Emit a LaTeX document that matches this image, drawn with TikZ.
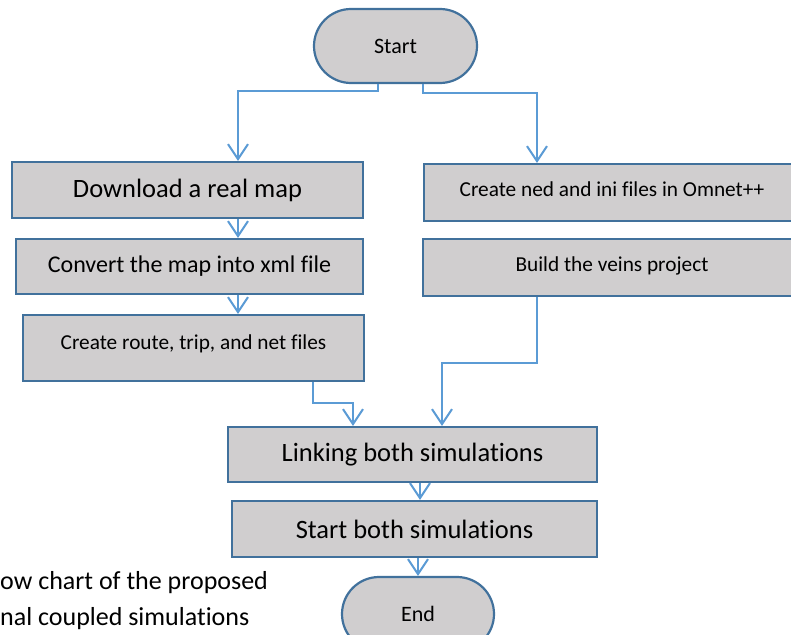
\documentclass[tikz,border=0pt]{standalone}
\usepackage{fontspec}
\setmainfont{Carlito}[Ligatures=NoCommon]
\usetikzlibrary{arrows.meta,shapes.misc,calc}
\definecolor{boxfill}{HTML}{D0CECF}
\definecolor{boxline}{HTML}{41719C}
\definecolor{conn}{HTML}{5B9BD5}
\tikzset{
  procbox/.style={draw=boxline, fill=boxfill, line width=2.2pt, rectangle, inner sep=0pt, align=center, text=black},
  termbox/.style={draw=boxline, fill=boxfill, line width=2.2pt, rounded rectangle, inner sep=0pt, text=black},
  flow/.style={draw=conn, line width=2pt, -{Straight Barb[length=15pt,width=20pt,line width=2pt]}},
}
\begin{document}
\begin{tikzpicture}[x=1pt,y=-1pt]
\useasboundingbox (0,0) rectangle (791,634);
\clip (0,0) rectangle (791,634);
\fill[white] (0,0) rectangle (791,634);

\node[termbox, minimum width=163pt, minimum height=74pt, font=\fontsize{22}{26}\selectfont] (start) at (395.5,46) {Start};

\node[procbox, minimum width=351pt, minimum height=56pt, font=\fontsize{26.5}{30}\selectfont] (b1) at (187.5,190) {Download a real map};
\node[procbox, minimum width=347pt, minimum height=55pt, font=\fontsize{24}{28}\selectfont] (b2) at (189.5,266.5) {Convert the map into xml file};
\node[procbox, minimum width=341pt, minimum height=66pt, font=\fontsize{21.3}{25}\selectfont, text depth=12pt] (b3) at (193.5,348) {Create route, trip, and net files};

\node[procbox, minimum width=376pt, minimum height=57pt, font=\fontsize{21.3}{25}\selectfont, text depth=6.5pt] (r1) at (612,192.5) {Create ned and ini files in Omnet++};
\node[procbox, minimum width=378pt, minimum height=57pt, font=\fontsize{21.3}{25}\selectfont, text depth=6.5pt] (r2) at (612,267.5) {Build the veins project};

\node[procbox, minimum width=369pt, minimum height=55pt, font=\fontsize{26.5}{30}\selectfont] (link) at (412.5,454.5) {Linking both simulations};
\node[procbox, minimum width=365pt, minimum height=56pt, font=\fontsize{26.5}{30}\selectfont] (sboth) at (414.5,529) {Start both simulations};

\node[termbox, minimum width=152pt, minimum height=74pt, font=\fontsize{22}{26}\selectfont] (end) at (418,614) {End};

\node[anchor=base west, inner sep=0pt, font=\fontsize{26}{30}\selectfont] (cap1) at (0,589) {ow chart of the proposed};
\node[anchor=base west, inner sep=0pt, font=\fontsize{26}{30}\selectfont] (cap2) at (0,625) {nal coupled simulations};

% connectors
\draw[flow] ($(start.south)+(-17.5,0)$) |- ($(b1.north)+(50.5,-70)$) -- (b1.north -| 238,0) ;
\draw[flow] ($(start.south)+(27.5,0)$) |- ($(r1.north)+(-75,-70)$) -- ($(r1.north)+(-75,0)$);
\draw[flow] (b1.south -| 238,0) -- (b2.north -| 238,0);
\draw[flow] (b2.south -| 238,0) -- (b3.north -| 238,0);
\draw[flow] (b3.south -| 313,0) |- ($(link.north)+(-59.5,-23)$) -- ($(link.north)+(-59.5,0)$);
\draw[flow] (r2.south -| 537,0) |- ($(link.north)+(29.5,-63)$) -- ($(link.north)+(29.5,0)$);
\draw[flow] (link.south -| 420,0) -- (sboth.north -| 420,0);
\draw[flow] (sboth.south -| 418,0) -- (end.north);
\end{tikzpicture}
\end{document}
